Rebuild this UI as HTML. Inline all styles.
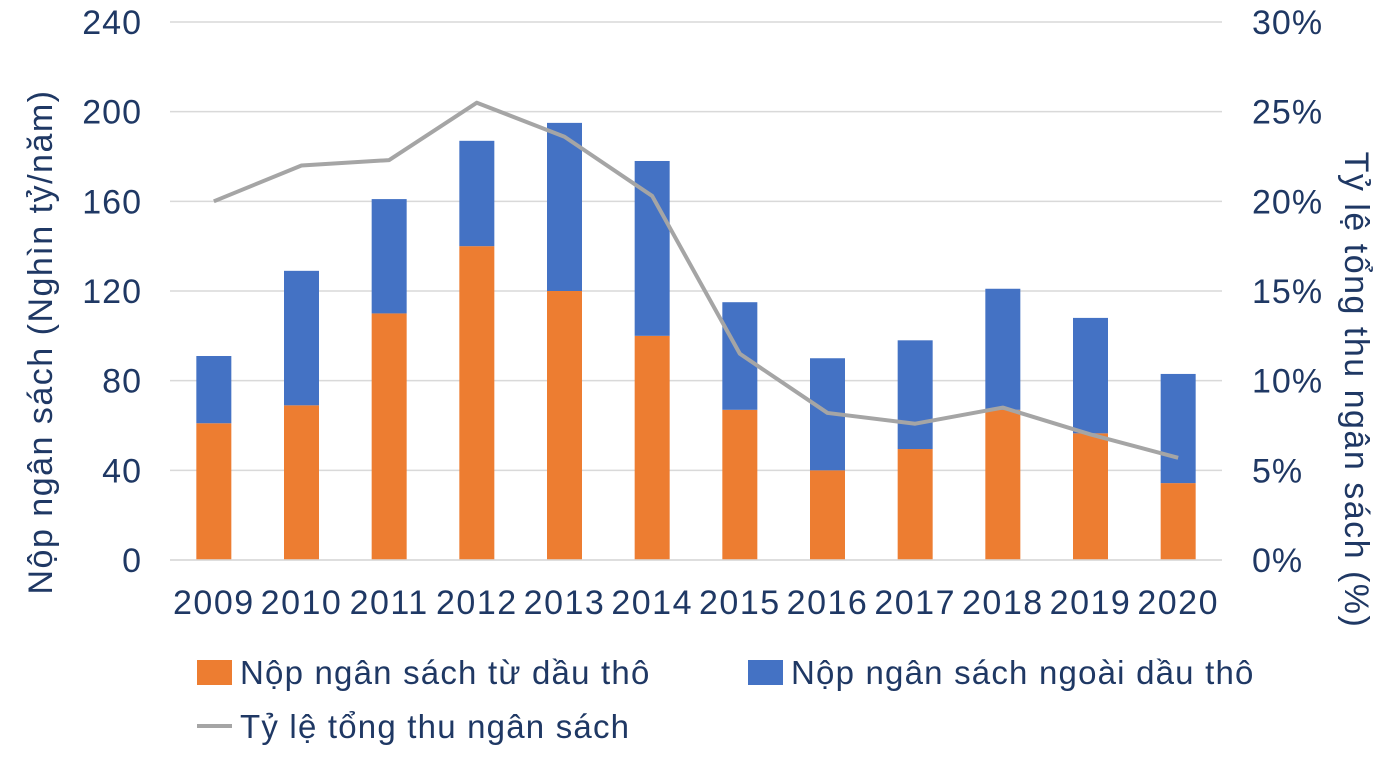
<!DOCTYPE html>
<html><head><meta charset="utf-8"><style>
body{margin:0;background:#fff;font-family:"Liberation Sans",Arial,sans-serif}
text{font-family:"Liberation Sans",Arial,sans-serif;fill:#1f3864}
</style></head><body>
<svg id="c" width="1400" height="768"></svg>
<script>
const categories=["2009","2010","2011","2012","2013","2014","2015","2016","2017","2018","2019","2020"];
const crudeValues=[61,69,110,140,120,100,67,40,49.5,67,56.5,34.3];
const totalValues=[91,129,161,187,195,178,115,90,98,121,108,83];
const ratioValues=[20.0,22.0,22.3,25.5,23.6,20.3,11.5,8.2,7.6,8.5,7.0,5.7];
const leftTicks=[0,40,80,120,160,200,240];
const rightTicks=[0,5,10,15,20,25,30];
const NS="http://www.w3.org/2000/svg",svg=document.getElementById('c');
const L=170,R=1222,T=22,B=560;
const yL=v=>B-(v/240)*(B-T), yR=v=>B-(v/30)*(B-T);
const bw=(R-L)/categories.length, xC=i=>L+bw*(i+0.5);
function mk(t,a,txt){const e=document.createElementNS(NS,t);for(const k in a)e.setAttribute(k,a[k]);if(txt!=null)e.textContent=txt;svg.appendChild(e);return e;}
leftTicks.forEach((v,i)=>{
 const g=mk('line',{x1:L,x2:R,y1:yL(v),y2:yL(v),stroke:'#d9d9d9','stroke-width':1.5});
 
 const t=mk('text',{x:142,y:yL(v)+12,'text-anchor':'end','font-size':34,'letter-spacing':1},v);
 
});
rightTicks.forEach(v=>{
 const t=mk('text',{x:1252,y:yR(v)+12,'font-size':34,'letter-spacing':1},v+'%');
 
});
categories.forEach((c,i)=>{
 const x=xC(i)-17.5;
 const o=mk('rect',{x:x,y:yL(crudeValues[i]),width:35,height:B-yL(crudeValues[i]),fill:'#ed7d31'});
 
 const b=mk('rect',{x:x,y:yL(totalValues[i]),width:35,height:yL(crudeValues[i])-yL(totalValues[i]),fill:'#4472c4'});
 
 const t=mk('text',{x:xC(i),y:614,'text-anchor':'middle','font-size':34,'letter-spacing':1.5},c);
 
});
const ax=mk('line',{x1:L,x2:R,y1:B,y2:B,stroke:'#d9d9d9','stroke-width':1.5});

const pl=mk('polyline',{points:ratioValues.map((v,i)=>xC(i)+','+yR(v)).join(' '),fill:'none',stroke:'#a5a5a5','stroke-width':4,'stroke-linejoin':'round'});

const yt=mk('text',{x:0,y:0,'font-size':34,'letter-spacing':1.5,'text-anchor':'middle',transform:'translate(52,342) rotate(-90)'},'Nộp ngân sách (Nghìn tỷ/năm)');

const yt2=mk('text',{x:0,y:0,'font-size':34,'letter-spacing':1.5,'text-anchor':'middle',transform:'translate(1345,390) rotate(90)'},'Tỷ lệ tổng thu ngân sách (%)');

const l1=mk('rect',{x:197,y:660,width:35,height:25,fill:'#ed7d31'});
const t1=mk('text',{x:240,y:684,'font-size':33,'letter-spacing':1.2},'Nộp ngân sách từ dầu thô');
const l2=mk('rect',{x:748,y:660,width:35,height:25,fill:'#4472c4'});
const t2=mk('text',{x:791,y:684,'font-size':33,'letter-spacing':1.2},'Nộp ngân sách ngoài dầu thô');
const l3=mk('line',{x1:197,x2:232,y1:726,y2:726,stroke:'#a5a5a5','stroke-width':4});
const t3=mk('text',{x:240,y:738,'font-size':33,'letter-spacing':1.2},'Tỷ lệ tổng thu ngân sách');
</script>
</body></html>
